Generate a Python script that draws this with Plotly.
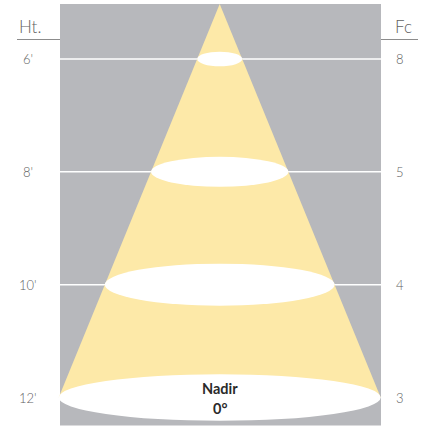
import plotly.graph_objects as go
import numpy as np

# ---- data ----
heights_ft = [6, 8, 10, 12]
height_labels = ["6'", "8'", "10'", "12'"]
fc_values = [8, 5, 4, 3]
fc_labels = [str(v) for v in fc_values]
beam_half_angle_deg = 22.25   # nadir beam half-angle
apex_ft = 5.025               # apex (fixture) position on height axis
ellipse_half_h_px = [7.3, 15, 21, 23.3]  # style: perspective thickness

# ---- layout constants (style) ----
W, H = 427, 426
PX_PER_FT = 56.42
Y_PX_AT_6 = 59.0
X_PX_CENTER = 219.7

def yft(px):
    return 6 + (px - Y_PX_AT_6) / PX_PER_FT

def xft(px):
    return (px - X_PX_CENTER) / PX_PER_FT

GRAY = "#b7b8bc"
YELLOW = "#fde9a8"
LABEL = "#5f5f5f"
HEADLINE = "#8c8c8c"

fig = go.Figure()

tan_a = np.tan(np.radians(beam_half_angle_deg))
base_h = max(heights_ft)
base_hw = (base_h - apex_ft) * tan_a

shapes = []
# gray background panel
shapes.append(dict(type="rect", xref="x", yref="y", x0=xft(60), x1=xft(381),
                   y0=yft(4), y1=yft(425.5), fillcolor=GRAY, line=dict(width=0), layer="below"))
# white level lines inside panel
for h in heights_ft[:-1]:
    shapes.append(dict(type="line", xref="x", yref="y", x0=xft(60), x1=xft(381), y0=h, y1=h,
                       line=dict(color="white", width=1.5), layer="below"))
# header lines
shapes.append(dict(type="line", xref="x", yref="y", x0=xft(17), x1=xft(60), y0=yft(39.5), y1=yft(39.5),
                   line=dict(color=HEADLINE, width=1.2)))
shapes.append(dict(type="line", xref="x", yref="y", x0=xft(381), x1=xft(418), y0=yft(39.5), y1=yft(39.5),
                   line=dict(color=HEADLINE, width=1.2)))

# cone
fig.add_trace(go.Scatter(x=[0, -base_hw, base_hw, 0], y=[apex_ft, base_h, base_h, apex_ft],
                         mode="lines", fill="toself", fillcolor=YELLOW, line=dict(width=0),
                         hoverinfo="skip", showlegend=False))

# light-pool ellipses
for h, hh in zip(heights_ft, ellipse_half_h_px):
    hw = (h - apex_ft) * tan_a
    dh = hh / PX_PER_FT
    shapes.append(dict(type="circle", xref="x", yref="y", x0=-hw, x1=hw, y0=h - dh, y1=h + dh,
                       fillcolor="white", line=dict(width=0), layer="above"))

annotations = []
font_lbl = dict(family="Lato", size=13, color=LABEL, weight=300)
for h, lab, fc in zip(heights_ft, height_labels, fc_labels):
    annotations.append(dict(x=xft(28), y=h, text=lab, showarrow=False, xanchor="center",
                            yanchor="middle", font=font_lbl))
    annotations.append(dict(x=xft(400), y=h, text=fc, showarrow=False, xanchor="center",
                            yanchor="middle", font=font_lbl))
annotations.append(dict(x=xft(29.5), y=yft(26), text="Ht.", showarrow=False, xanchor="center",
                        yanchor="middle", font=dict(family="Lato", size=17, color=LABEL, weight=300)))
annotations.append(dict(x=xft(403), y=yft(26), text="Fc", showarrow=False, xanchor="center",
                        yanchor="middle", font=dict(family="Lato", size=17, color=LABEL, weight=300)))
annotations.append(dict(x=0, y=yft(388), text="<b>Nadir</b>", showarrow=False, xanchor="center",
                        yanchor="middle", font=dict(family="Lato", size=14.5, color="#2a2a2a")))
annotations.append(dict(x=0, y=yft(408), text="<b>0°</b>", showarrow=False, xanchor="center",
                        yanchor="middle", font=dict(family="Lato", size=14.5, color="#2a2a2a")))

fig.update_layout(
    width=W, height=H, margin=dict(l=0, r=0, t=0, b=0),
    paper_bgcolor="white", plot_bgcolor="white",
    shapes=shapes, annotations=annotations, showlegend=False,
    xaxis=dict(range=[xft(0), xft(W)], visible=False, fixedrange=True),
    yaxis=dict(range=[yft(H), yft(0)], visible=False, fixedrange=True),
)

fig.write_html("out.html", config={"displayModeBar": False},
               post_script="document.body.style.margin='0';document.body.style.overflow='hidden';")
